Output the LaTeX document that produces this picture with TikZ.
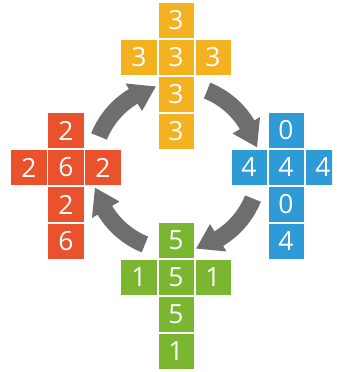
\documentclass[tikz,border=0pt]{standalone}
\usepackage{fontspec}
\newfontfamily\digitfont{Open Sans}
\definecolor{yel}{HTML}{F4B120}
\definecolor{org}{HTML}{E9522C}
\definecolor{blu}{HTML}{2E9BD6}
\definecolor{grn}{HTML}{7AB630}
\definecolor{arr}{HTML}{6E6E6E}
\tikzset{
  cell/.style={minimum size=35bp, inner sep=0pt, outer sep=0pt, text=white, font=\digitfont\fontsize{26.5}{26.5}\selectfont},
  ycell/.style={cell, fill=yel},
  ocell/.style={cell, fill=org},
  bcell/.style={cell, fill=blu},
  gcell/.style={cell, fill=grn},
  turn/.style={fill=arr, draw=none}
}
\begin{document}
\begin{tikzpicture}[x=1bp,y=1bp]
\useasboundingbox (0,0) rectangle (337,372);
\begin{scope}
\clip (0,0) rectangle (332,372);
% yellow
\node[ycell] (y1) at (176,351.5) {3};
\node[ycell] (y2) at (139,314.5) {3};
\node[ycell] (y3) at (176,314.5) {3};
\node[ycell] (y4) at (213,314.5) {3};
\node[ycell] (y5) at (176,277.5) {3};
\node[ycell] (y6) at (176,240.5) {3};
% orange-red
\node[ocell] (o1) at (66,241.5) {2};
\node[ocell] (o2) at (29,204.5) {2};
\node[ocell] (o3) at (66,204.5) {6};
\node[ocell] (o4) at (103,204.5) {2};
\node[ocell] (o5) at (66,167.5) {2};
\node[ocell] (o6) at (66,130.5) {6};
% blue
\node[bcell] (b1) at (286,241.5) {0};
\node[bcell] (b2) at (249,204.5) {4};
\node[bcell] (b3) at (286,204.5) {4};
\node[bcell] (b4) at (323,204.5) {4};
\node[bcell] (b5) at (286,167.5) {0};
\node[bcell] (b6) at (286,130.5) {4};
% green
\node[gcell] (g1) at (176,131.5) {5};
\node[gcell] (g2) at (139,94.5) {1};
\node[gcell] (g3) at (176,94.5) {5};
\node[gcell] (g4) at (213,94.5) {1};
\node[gcell] (g5) at (176,57.5) {5};
\node[gcell] (g6) at (176,20.5) {1};
\end{scope}
% curved arrows
\coordinate (c) at (176,204.5);
\foreach \r in {0,-90,-180,-270}{
  \begin{scope}[shift={(c)}, rotate=\r]
    \fill[turn] (158:91.5) arc[start angle=158, end angle=121, radius=91.5]
      -- (121:98) -- (104:83.5) -- (121:66) -- (121:74.5)
      arc[start angle=121, end angle=158, radius=74.5] -- cycle;
  \end{scope}
}
\end{tikzpicture}
\end{document}
